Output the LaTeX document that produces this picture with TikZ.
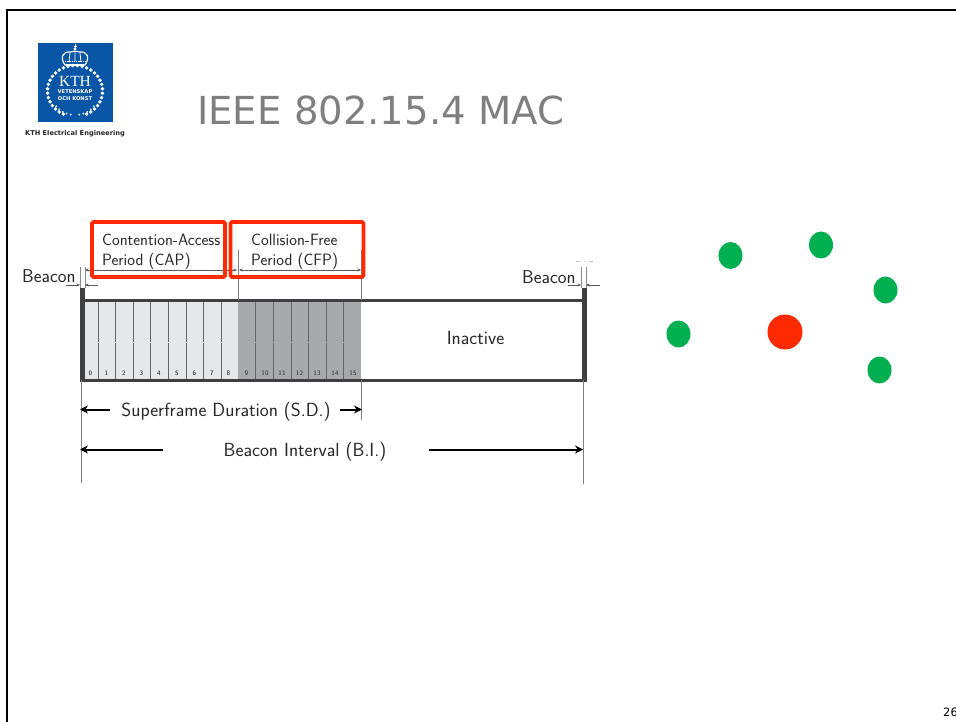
\documentclass[tikz,border=0pt]{standalone}
\usepackage{fontspec}
\newfontfamily\titlefont{DejaVu Sans}
\newfontfamily\logoserif{Liberation Serif}
\usetikzlibrary{arrows.meta,shapes.geometric}
\definecolor{kthblue}{HTML}{0A56A6}
\definecolor{capfill}{HTML}{E6E7E8}
\definecolor{cfpfill}{HTML}{A7A9AC}
\definecolor{framec}{HTML}{404041}
\definecolor{hlred}{HTML}{FF2A00}
\definecolor{nodegreen}{HTML}{00B050}
\definecolor{titlegray}{HTML}{7F7F7F}
\tikzset{
  lab/.style={font=\sffamily\fontsize{16.4}{17}\selectfont,text=black!85,inner sep=0pt,align=left},
  labbig/.style={font=\sffamily\fontsize{19}{21}\selectfont,text=black!85,inner sep=0pt},
  beaconlab/.style={font=\sffamily\fontsize{18.6}{21}\selectfont,text=black!85,inner sep=0pt},
  slotnum/.style={font=\sffamily\bfseries\fontsize{6.5}{7}\selectfont,text=black!70,inner sep=0pt},
  slotline/.style={line width=0.7pt,draw=black!60,dash pattern=on 40pt off 0.6pt on 26pt off 0.6pt},
  highlight/.style={draw=hlred,line width=3.8pt,rounded corners=1.5pt,inner sep=0pt},
  thinline/.style={draw=black!50,line width=0.8pt},
  tinyarrow/.style={draw=black!65,line width=0.6pt,-{Stealth[length=3.5pt,width=3pt]}},
  bigarrow/.style={draw=black,line width=2pt,-{Stealth[length=8pt,width=8pt]}},
  gnode/.style={fill=nodegreen,draw=none,shape=ellipse,minimum width=24pt,minimum height=27pt,inner sep=0pt},
  rnode/.style={fill=hlred,draw=none,shape=circle,minimum size=35pt,inner sep=0pt},
}
\begin{document}
\begin{tikzpicture}[x=1pt,y=-1pt]
\useasboundingbox (0,0) rectangle (956,722);
% slide border
\coordinate (bl) at (7,722);\coordinate (tl) at (7,10);\coordinate (tr) at (956,10);
\draw[line width=2pt,black] (bl) -- (tl) -- (tr);
% logo
\node[fill=kthblue,minimum width=75pt,minimum height=79pt,inner sep=0pt] (logo) at (75.5,82.5) {};
\foreach \a in {-65,-55,...,245}{
  \fill[white] ({75+27.5*cos(\a)},{91-25.5*sin(\a)}) circle (1.9pt);
  \fill[kthblue] ({75+27.5*cos(\a+5)},{91-25.5*sin(\a+5)}) circle (0.6pt);
}
\foreach \a in {-80,-70,...,-40,220,230,...,260}
  \fill[white] ({75+24.5*cos(\a)},{91-24*sin(\a)}) circle (1pt);
\draw[white,line width=1.1pt] (65,65) .. controls (60,58) and (62,51) .. (71,52) .. controls (73,51) and (77,51) .. (79,52) .. controls (88,51) and (90,58) .. (85,65) -- cycle;
\draw[white,line width=0.8pt] (70,53) -- (69,62) (75,51) -- (75,62) (80,53) -- (81,62);
\draw[white,line width=1.6pt,dash pattern=on 1.4pt off 0.8pt] (65,61.5) -- (85,61.5);
\draw[white,line width=1.5pt] (66,65) -- (84,65);
\fill[white] (75,49) circle (1.7pt);
\draw[white,line width=0.8pt] (75,44.5) -- (75,48) (73.5,46) -- (76.5,46);
\node[font=\logoserif\fontsize{15.5}{16}\selectfont,text=white,inner sep=0pt] (logokth) at (75,81) {KTH};
\node[font=\titlefont\bfseries\fontsize{5.2}{6}\selectfont,text=white,inner sep=0pt] (logov) at (75,92) {VETENSKAP};
\node[font=\titlefont\bfseries\fontsize{5.2}{6}\selectfont,text=white,inner sep=0pt] (logoo) at (75,99) {OCH KONST};
\node[font=\titlefont\bfseries\fontsize{6.65}{7}\selectfont,text=black!85,inner sep=0pt] (logot) at (75,133.5) {KTH Electrical Engineering};
% title
\node[font=\titlefont\fontsize{38.6}{42}\selectfont,text=titlegray,inner sep=0pt,anchor=base west] (title) at (197,125) {IEEE 802.15.4 MAC};
% slots
\fill[capfill] (84,302) rectangle (238,379);
\fill[cfpfill] (238,302) rectangle (361,379);
\foreach \x/\n in {90.5/0,106.5/1,124/2,141.5/3,159/4,177/5,194.5/6,212/7,228.5/8,246.5/9,265/10,282/11,299.5/12,317/13,335/14,353/15}
  \node[slotnum] (n\n) at (\x,373.5) {\n};
\foreach \x in {98,115,133,150,168,186,203,221,255,273,291,308,326,343}
  \draw[slotline] (\x,302) -- (\x,379);
% frame
\coordinate (ftl) at (81,300.5);\coordinate (ftr) at (583,300.5);\coordinate (fbl) at (81,380.5);\coordinate (fbr) at (583,380.5);
\draw[framec,line width=2.6pt] (ftl) -- (ftr) (fbl) -- (fbr);
\coordinate (lb1) at (82.5,288);\coordinate (lb2) at (82.5,382);\coordinate (rb1) at (584,288);\coordinate (rb2) at (584,382);
\draw[framec,line width=5pt] (lb1) -- (lb2) (rb1) -- (rb2);
% ticks
\coordinate (t1a) at (238,250);\coordinate (t1b) at (238,300);\coordinate (t2a) at (361,250);\coordinate (t2b) at (361,300);
\draw[thinline] (t1a) -- (t1b) (t2a) -- (t2b);
\coordinate (b1a) at (80,267);\coordinate (b1b) at (80,288);\coordinate (b2a) at (85,267);\coordinate (b2b) at (85,288);
\coordinate (b3a) at (581,267);\coordinate (b3b) at (581,288);\coordinate (b4a) at (586,267);\coordinate (b4b) at (586,288);
\draw[draw=black!45,line width=0.6pt] (b1a) -- (b1b) (b2a) -- (b2b) (b3a) -- (b3b) (b4a) -- (b4b);
\coordinate (f1) at (576,261);\coordinate (f2) at (580,261);\coordinate (f3) at (583.5,261);\coordinate (f4) at (584.5,261);\coordinate (f5) at (589,261);\coordinate (f6) at (593,261);
\draw[draw=black!25,line width=0.5pt] (f1) -- (f2) (f3) -- (f4) (f5) -- (f6);
\coordinate (d1) at (85,270);\coordinate (d2) at (237,270);\coordinate (d3) at (239,270);\coordinate (d4) at (361,270);
\draw[tinyarrow,{Stealth[length=3.5pt,width=3pt]}-{Stealth[length=3.5pt,width=3pt]}] (d1) -- (d2);
\draw[tinyarrow,{Stealth[length=3.5pt,width=3pt]}-{Stealth[length=3.5pt,width=3pt]}] (d3) -- (d4);
\coordinate (a1) at (66,285);\coordinate (a2) at (80,285);\coordinate (a3) at (98,285);\coordinate (a4) at (85,285);
\coordinate (a5) at (568,285);\coordinate (a6) at (581,285);\coordinate (a7) at (600,285);\coordinate (a8) at (586,285);
\draw[tinyarrow] (a1) -- (a2);\draw[tinyarrow] (a3) -- (a4);\draw[tinyarrow] (a5) -- (a6);\draw[tinyarrow] (a7) -- (a8);
% lower extension lines
\coordinate (v1a) at (81,380);\coordinate (v1b) at (81,483);\coordinate (v2a) at (583,380);\coordinate (v2b) at (583,484);\coordinate (v3a) at (361,380);\coordinate (v3b) at (361,420);
\draw[thinline] (v1a) -- (v1b) (v2a) -- (v2b) (v3a) -- (v3b);
% highlights
\node[highlight,minimum width=133pt,minimum height=55pt] (cap) at (158.5,249.5) {};
\node[highlight,minimum width=133pt,minimum height=55pt] (cfp) at (297,249.5) {};
% texts
\node[lab,anchor=west] (captext) at (102,251.5) {Contention-Access\\[3pt]Period (CAP)};
\node[lab,anchor=west] (cfptext) at (251,251.5) {Collision-Free\\[3pt]Period (CFP)};
\node[beaconlab,anchor=west] (beacon1) at (22,276.5) {Beacon};
\node[beaconlab,anchor=west] (beacon2) at (522,277.5) {Beacon};
\node[labbig] (inactive) at (475.5,338) {Inactive};
\node[labbig] (sd) at (226,412) {Superframe Duration (S.D.)};
\node[labbig] (bi) at (305,452) {Beacon Interval (B.I.)};
% big arrows
\coordinate (sa1) at (110,409.5);\coordinate (sa2) at (80,409.5);\coordinate (sa3) at (340,409.5);\coordinate (sa4) at (362,409.5);
\coordinate (ba1) at (163,449.5);\coordinate (ba2) at (80,449.5);\coordinate (ba3) at (429,449.5);\coordinate (ba4) at (583,449.5);
\draw[bigarrow] (sa1) -- (sa2);\draw[bigarrow] (sa3) -- (sa4);\draw[bigarrow] (ba1) -- (ba2);\draw[bigarrow] (ba3) -- (ba4);
% network
\node[gnode] (g1) at (730.5,255.5) {};
\node[gnode] (g2) at (821,245) {};
\node[gnode] (g3) at (885.5,290) {};
\node[gnode] (g4) at (678.5,334) {};
\node[gnode] (g5) at (879.5,370) {};
\node[rnode] (r1) at (785,332) {};
% page number
\node[font=\titlefont\fontsize{11.5}{12}\selectfont,inner sep=0pt,anchor=base west] (page) at (943,716) {26};
\end{tikzpicture}
\end{document}
